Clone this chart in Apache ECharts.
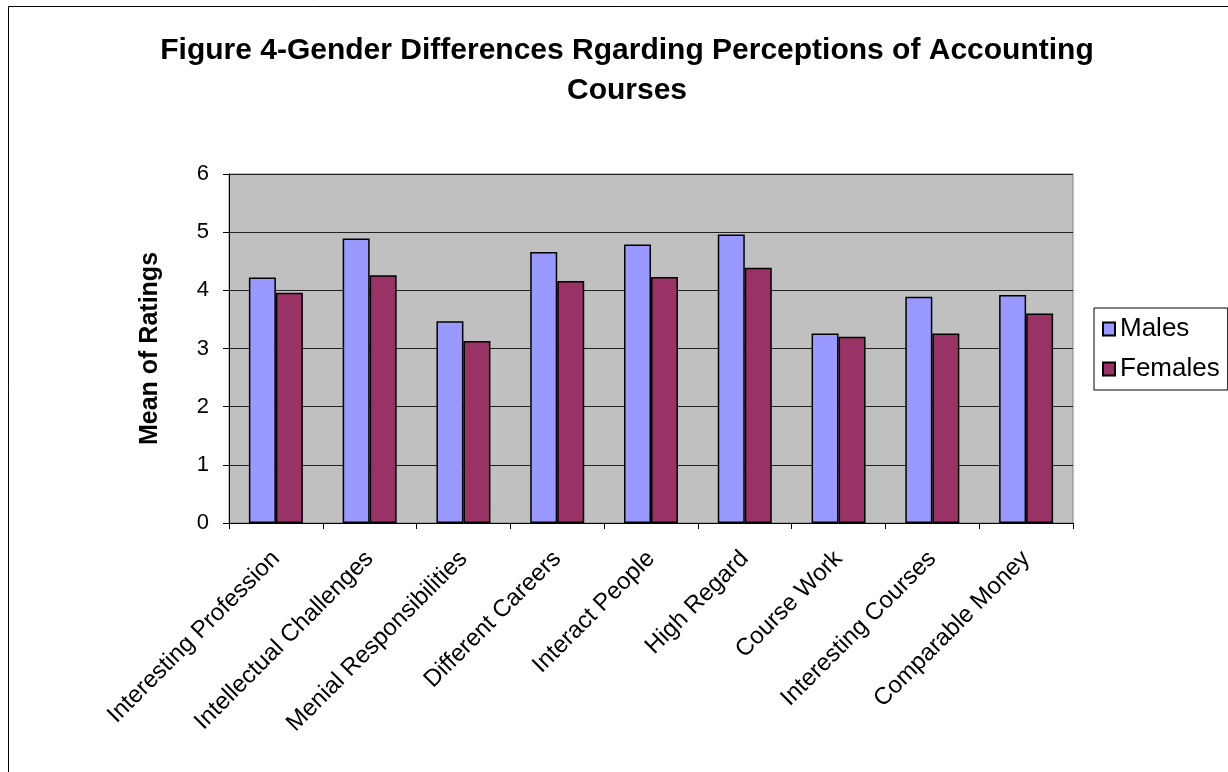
<!DOCTYPE html>
<html>
<head>
<meta charset="utf-8">
<script src="https://cdn.jsdelivr.net/npm/echarts@6/dist/echarts.min.js"></script>
<style>
  html, body { margin: 0; padding: 0; background: #fff; }
  #chart { width: 1228px; height: 772px; }
</style>
</head>
<body>
<div id="chart"></div>
<script>
const categories = [
  'Interesting Profession', 'Intellectual Challenges', 'Menial Responsibilities',
  'Different Careers', 'Interact People', 'High Regard',
  'Course Work', 'Interesting Courses', 'Comparable Money'
]
const males = [4.22, 4.89, 3.47, 4.66, 4.79, 4.96, 3.26, 3.89, 3.92]
const females = [3.96, 4.26, 3.13, 4.16, 4.23, 4.39, 3.20, 3.26, 3.60]
const yTicks = { min: 0, max: 6, interval: 1 }

const font = '"Liberation Sans", Arial, sans-serif'
const chart = echarts.init(document.getElementById('chart'))

const barSeries = (name, data, color) => ({
  name,
  type: 'bar',
  data,
  barWidth: 27,
  barGap: '0%',
  itemStyle: { color, borderColor: '#000', borderWidth: 1.5 },
  emphasis: { disabled: true }
})

chart.setOption({
  animation: false,
  backgroundColor: '#fff',
  textStyle: { fontFamily: font },
  title: {
    text: 'Figure 4-Gender Differences Rgarding Perceptions of Accounting\nCourses',
    left: 622,
    top: 26,
    textAlign: 'center',
    textStyle: { fontFamily: font, fontSize: 30, fontWeight: 'bold', color: '#000', lineHeight: 40 }
  },
  graphic: [{
    type: 'rect',
    silent: true,
    shape: { x: 8.5, y: 6.5, width: 1400, height: 1000 },
    style: { fill: 'none', stroke: '#000', lineWidth: 1 }
  }],
  legend: {
    orient: 'vertical',
    left: 1094,
    top: 308,
    padding: [8, 8, 8, 8],
    itemGap: 14,
    itemWidth: 12,
    itemHeight: 13,
    icon: 'rect',
    borderColor: '#000',
    borderWidth: 1,
    textStyle: { fontFamily: font, fontSize: 26, color: '#000' },
    data: ['Males', 'Females']
  },
  grid: {
    left: 229, top: 174, right: 155, bottom: 249,
    show: true, backgroundColor: '#C0C0C0', borderColor: '#808080', borderWidth: 1
  },
  xAxis: {
    type: 'category',
    data: categories,
    axisLine: { lineStyle: { color: '#000', width: 1 } },
    axisTick: { show: true, length: 6, lineStyle: { color: '#000' } },
    axisLabel: { rotate: 45, fontSize: 24, color: '#000', fontFamily: font, margin: 32, interval: 0 }
  },
  yAxis: {
    type: 'value',
    min: yTicks.min,
    max: yTicks.max,
    interval: yTicks.interval,
    name: 'Mean of Ratings',
    nameLocation: 'middle',
    nameGap: 66,
    nameTextStyle: { fontFamily: font, fontSize: 25, fontWeight: 'bold', color: '#000' },
    axisLine: { show: true, lineStyle: { color: '#000' } },
    axisTick: { show: true, length: 6, lineStyle: { color: '#000' } },
    axisLabel: { fontSize: 22, color: '#000', fontFamily: font, margin: 20 },
    splitLine: { lineStyle: { color: '#222', width: 1 } }
  },
  series: [
    barSeries('Males', males, '#9999FF'),
    barSeries('Females', females, '#993366')
  ]
})
</script>
</body>
</html>
